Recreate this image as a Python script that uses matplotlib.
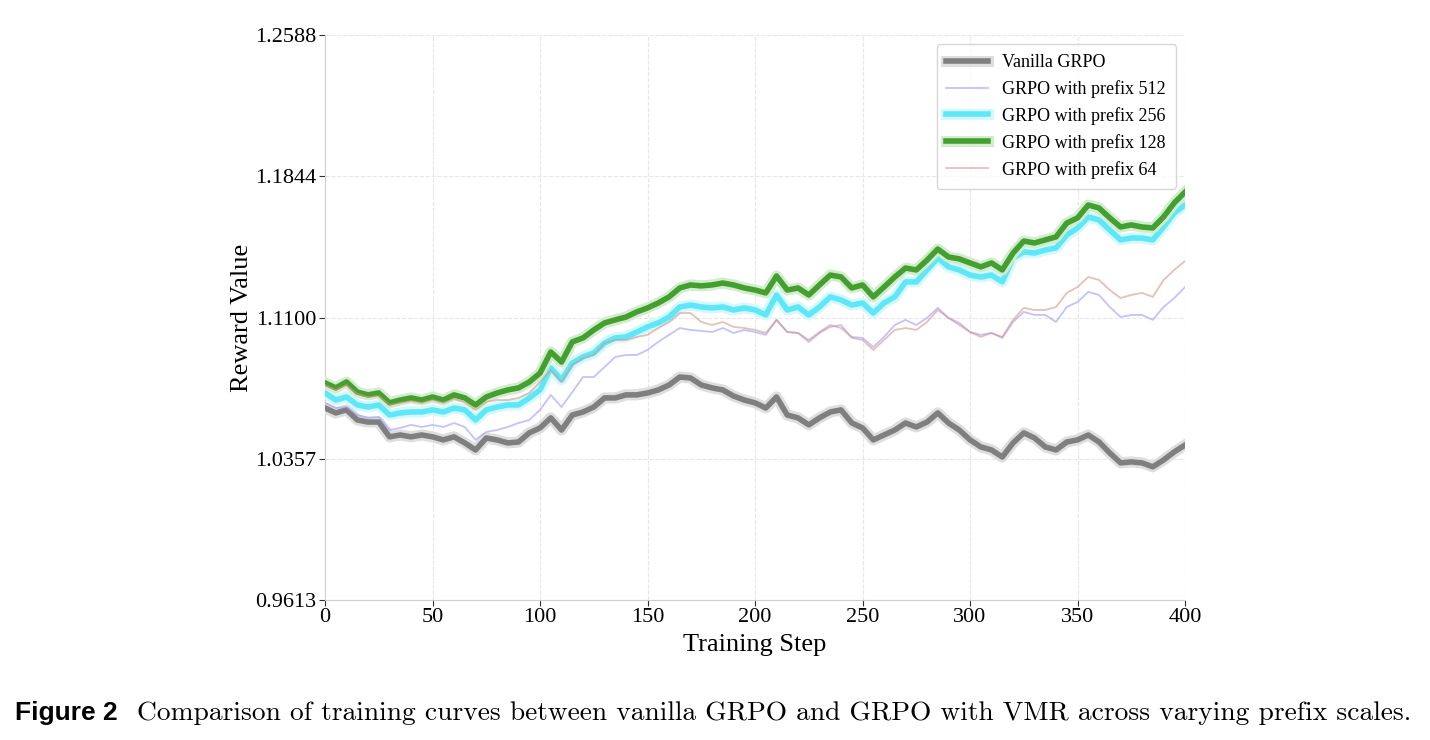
import numpy as np
import matplotlib
matplotlib.use("Agg")
import matplotlib.pyplot as plt
import matplotlib.patheffects as pe

steps = np.arange(0, 401, 5)

vanilla = [
    1.0624, 1.0598, 1.0614, 1.0561, 1.0550, 1.0550, 1.0472, 1.0482, 1.0472, 1.0482,
    1.0472, 1.0456, 1.0472, 1.0440, 1.0403, 1.0466, 1.0456, 1.0440, 1.0445, 1.0493,
    1.0519, 1.0572, 1.0508, 1.0587, 1.0603, 1.0629, 1.0677, 1.0677, 1.0693, 1.0693,
    1.0703, 1.0719, 1.0745, 1.0787, 1.0782, 1.0745, 1.0730, 1.0719, 1.0687, 1.0666,
    1.0651, 1.0624, 1.0682, 1.0587, 1.0572, 1.0535, 1.0572, 1.0603, 1.0614, 1.0545,
    1.0519, 1.0456, 1.0482, 1.0508, 1.0545, 1.0524, 1.0550, 1.0598, 1.0545, 1.0508,
    1.0456, 1.0419, 1.0403, 1.0366, 1.0440, 1.0493, 1.0466, 1.0419, 1.0403, 1.0445,
    1.0456, 1.0482, 1.0445, 1.0387, 1.0335, 1.0340, 1.0335, 1.0314, 1.0350, 1.0393,
    1.0429,
]

prefix_512 = [
    1.0651, 1.0624, 1.0629, 1.0587, 1.0572, 1.0577, 1.0508, 1.0519, 1.0535, 1.0524,
    1.0535, 1.0524, 1.0545, 1.0524, 1.0456, 1.0498, 1.0508, 1.0524, 1.0545, 1.0561,
    1.0614, 1.0693, 1.0629, 1.0708, 1.0787, 1.0787, 1.0840, 1.0893, 1.0903, 1.0903,
    1.0930, 1.0972, 1.1009, 1.1045, 1.1035, 1.1030, 1.1024, 1.1045, 1.1019, 1.1035,
    1.1024, 1.1009, 1.1088, 1.1024, 1.1019, 1.0982, 1.1024, 1.1061, 1.1045, 1.0998,
    1.0993, 1.0945, 1.0998, 1.1061, 1.1088, 1.1061, 1.1098, 1.1151, 1.1098, 1.1072,
    1.1024, 1.1009, 1.1019, 1.0993, 1.1077, 1.1130, 1.1114, 1.1114, 1.1077, 1.1156,
    1.1182, 1.1235, 1.1219, 1.1156, 1.1103, 1.1114, 1.1114, 1.1088, 1.1156, 1.1203,
    1.1261,
]

prefix_256 = [
    1.0703, 1.0666, 1.0682, 1.0640, 1.0629, 1.0640, 1.0587, 1.0598, 1.0603, 1.0603,
    1.0614, 1.0603, 1.0624, 1.0614, 1.0561, 1.0614, 1.0629, 1.0640, 1.0640, 1.0677,
    1.0719, 1.0835, 1.0772, 1.0861, 1.0893, 1.0914, 1.0966, 1.0993, 1.0998, 1.1024,
    1.1051, 1.1072, 1.1103, 1.1156, 1.1166, 1.1156, 1.1151, 1.1156, 1.1140, 1.1151,
    1.1140, 1.1114, 1.1219, 1.1140, 1.1156, 1.1114, 1.1156, 1.1209, 1.1193, 1.1166,
    1.1177, 1.1124, 1.1177, 1.1209, 1.1288, 1.1288, 1.1351, 1.1414, 1.1367, 1.1351,
    1.1324, 1.1314, 1.1324, 1.1288, 1.1414, 1.1446, 1.1440, 1.1456, 1.1467, 1.1535,
    1.1572, 1.1630, 1.1614, 1.1561, 1.1509, 1.1519, 1.1519, 1.1509, 1.1577, 1.1651,
    1.1693,
]

prefix_128 = [
    1.0756, 1.0730, 1.0761, 1.0708, 1.0693, 1.0703, 1.0651, 1.0666, 1.0677, 1.0666,
    1.0682, 1.0666, 1.0693, 1.0677, 1.0640, 1.0682, 1.0703, 1.0719, 1.0730, 1.0761,
    1.0808, 1.0919, 1.0866, 1.0972, 1.0993, 1.1035, 1.1072, 1.1088, 1.1103, 1.1130,
    1.1151, 1.1177, 1.1209, 1.1256, 1.1272, 1.1267, 1.1272, 1.1282, 1.1272, 1.1256,
    1.1245, 1.1230, 1.1319, 1.1245, 1.1256, 1.1219, 1.1272, 1.1324, 1.1314, 1.1256,
    1.1272, 1.1209, 1.1261, 1.1314, 1.1361, 1.1351, 1.1403, 1.1461, 1.1419, 1.1409,
    1.1388, 1.1367, 1.1388, 1.1351, 1.1440, 1.1503, 1.1493, 1.1509, 1.1525, 1.1598,
    1.1625, 1.1693, 1.1677, 1.1625, 1.1577, 1.1588, 1.1577, 1.1572, 1.1630, 1.1704,
    1.1761,
]

prefix_64 = [
    1.0745, 1.0719, 1.0745, 1.0698, 1.0682, 1.0687, 1.0640, 1.0651, 1.0661, 1.0651,
    1.0666, 1.0651, 1.0672, 1.0656, 1.0614, 1.0656, 1.0666, 1.0666, 1.0677, 1.0703,
    1.0761, 1.0824, 1.0761, 1.0851, 1.0887, 1.0903, 1.0966, 1.0982, 1.0982, 1.0998,
    1.1009, 1.1045, 1.1077, 1.1124, 1.1124, 1.1077, 1.1061, 1.1077, 1.1051, 1.1045,
    1.1035, 1.1019, 1.1088, 1.1024, 1.1019, 1.0972, 1.1019, 1.1051, 1.1061, 1.0993,
    1.0982, 1.0930, 1.0982, 1.1035, 1.1045, 1.1035, 1.1077, 1.1140, 1.1098, 1.1061,
    1.1024, 1.0998, 1.1019, 1.0998, 1.1088, 1.1151, 1.1140, 1.1140, 1.1156, 1.1230,
    1.1261, 1.1314, 1.1298, 1.1245, 1.1203, 1.1219, 1.1230, 1.1209, 1.1298, 1.1351,
    1.1398,
]

y_ticks = [0.9613, 1.0357, 1.1100, 1.1844, 1.2588]
x_ticks = [0, 50, 100, 150, 200, 250, 300, 350, 400]

serif = ["Liberation Serif", "DejaVu Serif"]

fig = plt.figure(figsize=(14.3, 7.4), dpi=100)
ax = fig.add_axes([0.2273, 0.1892, 0.6014, 0.7635])

def glow(color):
    return [pe.Stroke(linewidth=8, foreground=color), pe.Normal()]

ax.plot(steps, vanilla, color="#7f7f7f", lw=4, label="Vanilla GRPO",
        path_effects=glow("#dedede"), zorder=3)
ax.plot(steps, prefix_512, color="#9a9aff", lw=1.3, alpha=0.6,
        label="GRPO with prefix 512", zorder=4)
ax.plot(steps, prefix_256, color="#5ee8f7", lw=4, label="GRPO with prefix 256",
        path_effects=glow("#d4f8fc"), zorder=5)
ax.plot(steps, prefix_128, color="#43a02f", lw=4, label="GRPO with prefix 128",
        path_effects=glow("#d3ebce"), zorder=6)
ax.plot(steps, prefix_64, color="#d99585", lw=1.3, alpha=0.6,
        label="GRPO with prefix 64", zorder=7)

ax.set_xlim(0, 400)
ax.set_ylim(0.9613, 1.2588)
ax.set_xticks(x_ticks)
ax.set_yticks(y_ticks)
ax.set_yticklabels([f"{v:.4f}" for v in y_ticks])
ax.tick_params(labelsize=16, length=4, color="#333333", pad=2)
for lbl in ax.get_xticklabels() + ax.get_yticklabels():
    lbl.set_family(serif)

ax.grid(True, linestyle="--", color="#e6e6e6", linewidth=0.8)
for s in ["top", "right"]:
    ax.spines[s].set_visible(False)
for s in ["left", "bottom"]:
    ax.spines[s].set_color("#cfcfcf")

ax.set_xlabel("Training Step", fontsize=19, family=serif, labelpad=5)
ax.set_ylabel("Reward Value", fontsize=19, family=serif, labelpad=2)

leg = ax.legend(loc="upper right", prop={"family": serif, "size": 13},
                frameon=True, fancybox=True, borderpad=0.55, handlelength=2.3,
                labelspacing=0.5)
leg.get_frame().set_edgecolor("#cccccc")

fig.text(0.0105, 0.027, "Figure 2", fontsize=19, fontweight="bold",
         family=["Liberation Sans", "DejaVu Sans"], va="baseline")
fig.text(0.096, 0.027,
         "Comparison of training curves between vanilla GRPO and GRPO with VMR across varying prefix scales.",
         fontsize=19.8, family=["cmr10", "DejaVu Serif"], va="baseline")

fig.savefig("out.png", dpi=100)
